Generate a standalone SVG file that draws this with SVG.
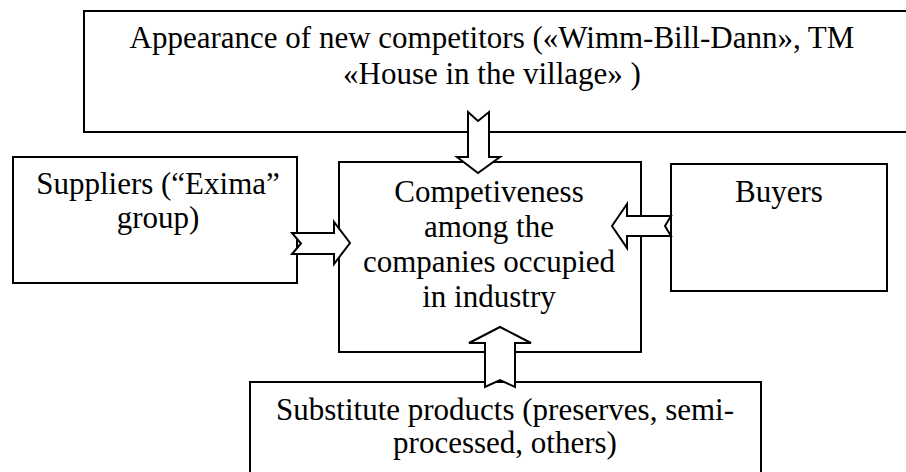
<svg xmlns="http://www.w3.org/2000/svg" width="906" height="472" viewBox="0 0 906 472">
<style>
.box{fill:#fff;stroke:#000;stroke-width:2}
.arr{fill:#fff;stroke:#000;stroke-width:2;stroke-linejoin:miter}
text{font-family:"Liberation Serif","Times New Roman",serif;font-size:31px;fill:#000;text-anchor:middle}
</style>
<rect width="906" height="472" fill="#fff"/>
<g id="top">
<rect class="box" x="84" y="11" width="830" height="121"/>
<text x="492" y="48">Appearance of new competitors («Wimm-Bill-Dann», TM</text>
<text x="492" y="84">«House in the village» )</text>
</g>
<g id="suppliers">
<rect class="box" x="13" y="157" width="284" height="126"/>
<text x="158" y="194">Suppliers (“Exima”</text>
<text x="158" y="228">group)</text>
</g>
<g id="center">
<rect class="box" x="339" y="162" width="302" height="190"/>
<text x="489" y="202">Competiveness</text>
<text x="489" y="237">among the</text>
<text x="489" y="272">companies occupied</text>
<text x="489" y="307">in industry</text>
</g>
<g id="buyers">
<rect class="box" x="671" y="164" width="216" height="127"/>
<text x="779" y="202">Buyers</text>
</g>
<g id="substitutes">
<rect class="box" x="250" y="382" width="511" height="100"/>
<text x="505" y="420">Substitute products (preserves, semi-</text>
<text x="505" y="453">processed, others)</text>
</g>
<g id="connectors">
<polygon class="arr" points="468,112 478,121 489,112 489,157 500,157 478,173 457,157 468,157"/>
<polygon class="arr" points="292,233 334,233 334,222 350,243 334,264 334,254 292,254 301,243.5"/>
<polygon class="arr" points="612,226 627,204 627,216 671,216 665,226 671,236 627,236 627,248"/>
<polygon class="arr" points="500,327 531,343 515,343 515,387 500,380 485,387 485,343 469,343"/>
</g>
</svg>
